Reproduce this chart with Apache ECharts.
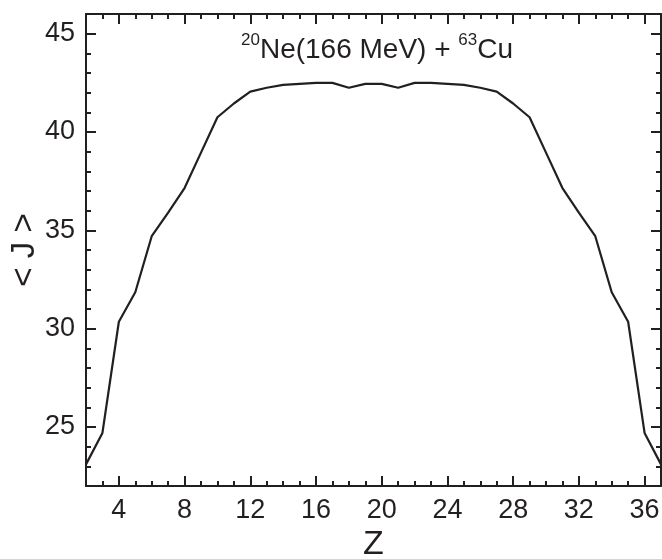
<!DOCTYPE html>
<html>
<head>
<meta charset="utf-8">
<script src="https://cdn.jsdelivr.net/npm/echarts@6/dist/echarts.min.js"></script>
<style>html,body{margin:0;padding:0;background:#fff;}#c{width:662px;height:559px;}</style>
</head>
<body>
<div id="c"></div>
<script>
const zValues = [2,3,4,5,6,7,8,9,10,11,12,13,14,15,16,17,18,19,20,21,22,23,24,25,26,27,28,29,30,31,32,33,34,35,36,37];
const jValues = [23.1,24.7,30.35,31.85,34.7,35.9,37.15,38.95,40.75,41.45,42.05,42.25,42.4,42.45,42.5,42.5,42.25,42.45,42.45,42.25,42.5,42.5,42.45,42.4,42.25,42.05,41.45,40.75,38.95,37.15,35.9,34.7,31.85,30.35,24.7,23.1];
const xMajorTicks = [4,8,12,16,20,24,28,32,36];
const xMinorTicks = [3,5,6,7,9,10,11,13,14,15,17,18,19,21,22,23,25,26,27,29,30,31,33,34,35,37];
const yMajorTicks = [25,30,35,40,45];
const yMinorTicks = [23,24,26,27,28,29,31,32,33,34,36,37,38,39,41,42,43,44,46];
const xRange = [2,37];
const yRange = [22,46];
const titleParts = ['20','Ne(166 MeV) + ','63','Cu'];
const xName = 'Z';
const yName = '< J >';

const ink = '#231f20';
const font = 'Liberation Sans, Arial, sans-serif';

function mkAxis(pos, range, ticks, len, showLine, labels, extra) {
  return Object.assign({
    type: 'value', position: pos, min: range[0], max: range[1],
    axisLine: {show: showLine, onZero: false, lineStyle: {color: ink, width: 2}},
    axisTick: {show: true, inside: true, length: len, customValues: ticks, lineStyle: {color: ink, width: 2}},
    axisLabel: labels ? {show: true, customValues: labels, color: ink, fontSize: 27, fontFamily: font, margin: 11} : {show: false},
    splitLine: {show: false}
  }, extra || {});
}

const chart = echarts.init(document.getElementById('c'), null, {renderer: 'canvas'});
chart.setOption({
  animation: false,
  backgroundColor: '#fff',
  grid: {left: 86, right: 1, top: 14, bottom: 73, containLabel: false, outerBoundsMode: 'none'},
  title: {
    text: '{sup|' + titleParts[0] + '}{n|' + titleParts[1] + '}{sup|' + titleParts[2] + '}{n|' + titleParts[3] + '}',
    left: 236, top: 27,
    textStyle: {
      fontWeight: 'normal',
      rich: {
        n: {fontSize: 28, fontFamily: font, color: ink, fontWeight: 'normal', lineHeight: 32, verticalAlign: 'bottom'},
        sup: {fontSize: 17, fontFamily: font, color: ink, fontWeight: 'normal', lineHeight: 17, verticalAlign: 'top'}
      }
    }
  },
  xAxis: [
    mkAxis('bottom', xRange, xMajorTicks, 10, true, xMajorTicks, {name: xName, nameLocation: 'middle', nameGap: 42, nameMoveOverlap: false, nameTextStyle: {color: ink, fontSize: 34, fontFamily: font}}),
    mkAxis('bottom', xRange, xMinorTicks, 5, false, null),
    mkAxis('top', xRange, xMajorTicks, 10, true, null),
    mkAxis('top', xRange, xMinorTicks, 5, false, null)
  ],
  yAxis: [
    mkAxis('left', yRange, yMajorTicks, 10, true, yMajorTicks, {name: yName, nameLocation: 'middle', nameGap: 45, nameMoveOverlap: false, nameTextStyle: {color: ink, fontSize: 33, fontFamily: font}}),
    mkAxis('left', yRange, yMinorTicks, 5, false, null),
    mkAxis('right', yRange, yMajorTicks, 10, true, null),
    mkAxis('right', yRange, yMinorTicks, 5, false, null)
  ],
  series: [{
    type: 'line', xAxisIndex: 0, yAxisIndex: 0,
    data: zValues.map((z, i) => [z, jValues[i]]),
    showSymbol: false, symbol: 'none',
    lineStyle: {color: ink, width: 2.2},
    clip: true
  }]
});
</script>
</body>
</html>
